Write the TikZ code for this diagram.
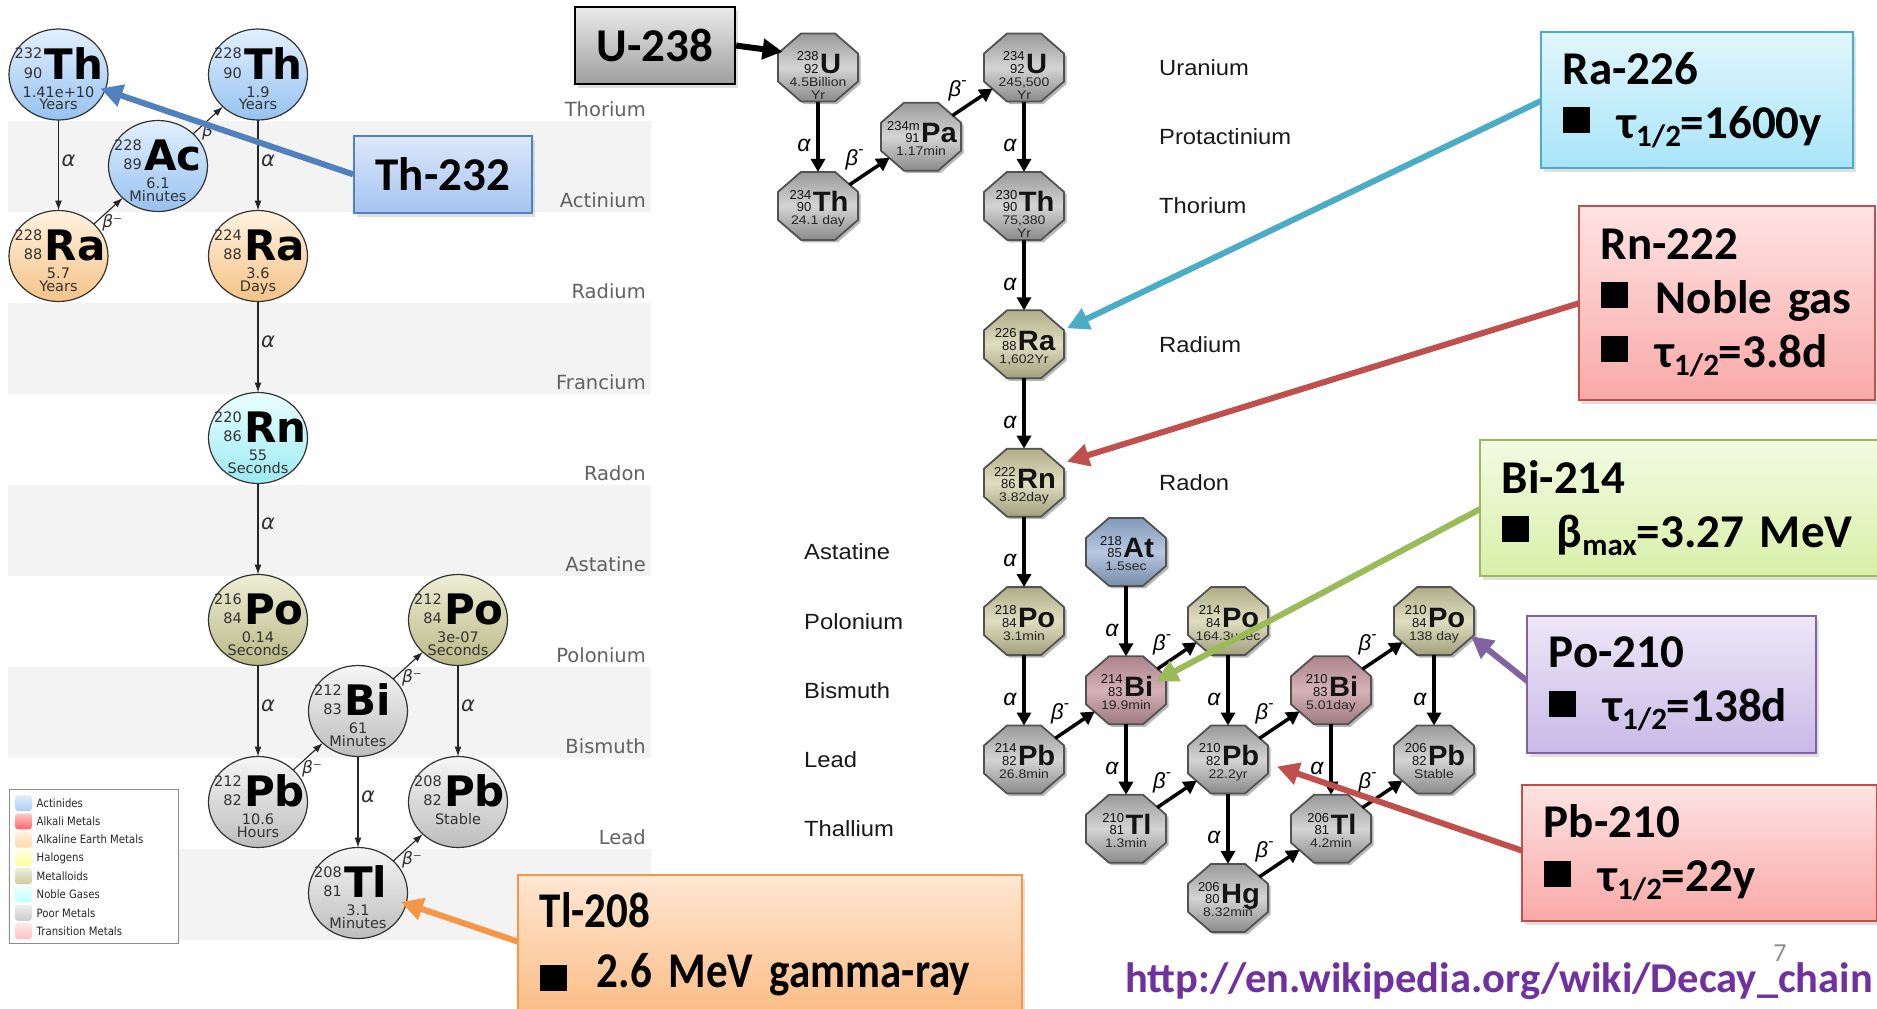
\documentclass[tikz,border=0pt]{standalone}
\usepackage{fontspec}
\setmainfont{Liberation Sans}
\newfontfamily\dejavu{DejaVu Sans}
\newfontfamily\dejavunarrow[FakeStretch=0.88]{DejaVu Sans}
\newfontfamily\arialwide[FakeStretch=1.08]{Liberation Sans}
\newfontfamily\octsymfont[FakeStretch=1.04]{Liberation Sans}
\newfontfamily\octnumfont{Liberation Sans}
\newfontfamily\octtimefont[FakeStretch=1.12]{Liberation Sans}
\newfontfamily\calibri{Carlito}
\newfontfamily\calibrinarrow[FakeStretch=0.86]{Carlito}
\usetikzlibrary{arrows.meta,shapes.geometric,calc,shadows}

\newcommand\fsz[2]{\fontsize{#1}{#2}\selectfont}
\newcommand\sqb{\raisebox{5pt}{\rule{27pt}{26pt}}\hspace{28pt}}
\newcommand\sbs[1]{\raisebox{-8pt}{\fsz{31}{31}#1}}
\newcommand\rbm{β\raisebox{0.5em}{\fsz{16}{16}-}}

% palette
\definecolor{bandgray}{HTML}{F3F3F3}
\definecolor{ringBlueT}{HTML}{E2F0FF}\definecolor{ringBlueB}{HTML}{96C2F0}
\definecolor{ringPeachT}{HTML}{FFF2E0}\definecolor{ringPeachB}{HTML}{F5C387}
\definecolor{ringCyanT}{HTML}{EAFFFF}\definecolor{ringCyanB}{HTML}{9BEAF2}
\definecolor{ringOliveT}{HTML}{EEEED4}\definecolor{ringOliveB}{HTML}{B9B886}
\definecolor{ringGrayT}{HTML}{F6F6F6}\definecolor{ringGrayB}{HTML}{BDBDBD}
\definecolor{octGrayE}{HTML}{9A9A9A}\definecolor{octGrayM}{HTML}{D4D4D4}
\definecolor{octOliveE}{HTML}{B0AE86}\definecolor{octOliveM}{HTML}{DEDDC0}
\definecolor{octMauveE}{HTML}{AD838B}\definecolor{octMauveM}{HTML}{D4B2B7}
\definecolor{octBlueE}{HTML}{8299B8}\definecolor{octBlueM}{HTML}{B7C8DF}
\definecolor{legAct}{HTML}{A9D0F5}\definecolor{legAlk}{HTML}{FF6666}
\definecolor{legAE}{HTML}{FFD9A8}\definecolor{legHal}{HTML}{FFFF99}
\definecolor{legMet}{HTML}{CCCC99}\definecolor{legNob}{HTML}{C0FFFF}
\definecolor{legPoor}{HTML}{CCCCCC}\definecolor{legTr}{HTML}{FFC0C0}
\definecolor{thLine}{HTML}{4F81BD}\definecolor{thTop}{HTML}{DDE8FB}\definecolor{thBot}{HTML}{A6C3F0}
\definecolor{raLine}{HTML}{4BACC6}\definecolor{raTop}{HTML}{E2F6FD}\definecolor{raBot}{HTML}{A8E5F8}
\definecolor{redLine}{HTML}{C0504D}\definecolor{redTop}{HTML}{FDE3E3}\definecolor{redBot}{HTML}{F9A9A7}
\definecolor{biLine}{HTML}{9BBB59}\definecolor{biTop}{HTML}{F3FAE2}\definecolor{biBot}{HTML}{D8F0A9}
\definecolor{poLine}{HTML}{8064A2}\definecolor{poTop}{HTML}{EDE8F7}\definecolor{poBot}{HTML}{C9B9E7}
\definecolor{tlLine}{HTML}{F79646}\definecolor{tlTop}{HTML}{FEE7D3}\definecolor{tlBot}{HTML}{FBBD86}
\definecolor{urlPurple}{HTML}{7030A0}

\tikzset{
  ring/.style={ellipse, draw=black!80, line width=1.2pt, minimum width=99pt,
    minimum height=91pt, inner sep=0pt, outer sep=0pt},
  ringblue/.style={top color=ringBlueT, bottom color=ringBlueB},
  ringpeach/.style={top color=ringPeachT, bottom color=ringPeachB},
  ringcyan/.style={top color=ringCyanT, bottom color=ringCyanB},
  ringolive/.style={top color=ringOliveT, bottom color=ringOliveB},
  ringgray/.style={top color=ringGrayT, bottom color=ringGrayB},
  ringnum/.style={font=\dejavu\fsz{14.5}{17}, text=black!80, inner sep=0pt},
  ringsym/.style={font=\dejavu\bfseries\fsz{42}{46}, inner sep=0pt},
  octbase/.style={ellipse, minimum width=80pt, minimum height=68pt, inner sep=0pt, outer sep=0pt},
  octline/.style={draw=black!68, line width=1.8pt, line join=round},
  octgray/.style={top color=octGrayE, bottom color=octGrayE!90!black, middle color=octGrayM},
  octolive/.style={top color=octOliveE, bottom color=octOliveE!92!black, middle color=octOliveM},
  octmauve/.style={top color=octMauveE, bottom color=octMauveE!92!black, middle color=octMauveM},
  octblue/.style={top color=octBlueE, bottom color=octBlueE!92!black, middle color=octBlueM},
  octgroup/.style={anchor=base, inner sep=0pt, text=black!92},
  octtime/.style={anchor=base, inner sep=0pt, font=\octtimefont\fsz{12.5}{14}, text=black!85},
  larrow/.style={line width=1.1pt, black!85, -{Latex[length=10pt,width=7pt]}},
  lalpha/.style={font=\dejavu\itshape\fsz{21}{22}, text=black!80, inner sep=0pt, xshift=10pt, yshift=5pt},
  lbeta/.style={font=\dejavu\itshape\fsz{17}{18}, text=black!80, inner sep=0pt, xshift=4pt, yshift=-12pt},
  llabel/.style={font=\dejavu\fsz{19.5}{22}, text=black!62, anchor=base east, inner sep=0pt},
  rlabel/.style={font=\arialwide\fsz{22}{24}, text=black!90, anchor=base west, inner sep=0pt},
  rarrow/.style={line width=3.5pt, black, -{Triangle[length=13pt,width=14pt]}},
  ralpha/.style={font=\itshape\fsz{23}{24}, inner sep=0pt, xshift=-14pt, yshift=-9pt},
  rbeta/.style={font=\itshape\fsz{22}{23}, inner sep=0pt, xshift=-15pt, yshift=11pt},
  legsw/.style={rounded corners=3pt, minimum width=17pt, minimum height=16pt, inner sep=0pt},
  legtext/.style={font=\dejavunarrow\fsz{11.5}{13}, text=black!85, anchor=west, inner sep=0pt},
  boxshadow/.style={drop shadow={shadow xshift=3pt, shadow yshift=-4pt, opacity=0.25}},
  tagbox/.style={draw, line width=1.6pt, inner sep=0pt, anchor=north west, boxshadow,
    font=\calibri\bfseries\fsz{47}{54}},
  callout/.style={draw, line width=1.5pt, inner xsep=22pt, inner ysep=0pt, align=left,
    anchor=north west, boxshadow, font=\calibri\bfseries\fsz{47}{54}},
  callarrow/.style={line width=6pt, -{Triangle[length=22pt,width=22pt]}},
}

% nuclide of the thorium series: name, position, palette, A, Z, symbol, time, unit
\newcommand\ringnuc[8]{%
  \node[ring,#3] (#1) at #2 {};
  \node[ringnum,anchor=base east] (#1-a) at ([shift={(-16,-16)}]#1.center) {#4};
  \node[ringnum,anchor=base east] (#1-z) at ([shift={(-16,3.5)}]#1.center) {#5};
  \node[ringsym,anchor=base west] (#1-s) at ([shift={(-14,4.5)}]#1.center) {#6};
  \node[ringnum,anchor=base] (#1-t) at ([shift={(0,22.5)}]#1.center) {#7};
  \node[ringnum,anchor=base] (#1-u) at ([shift={(0,35)}]#1.center) {#8};
}

% nuclide of the uranium series: name, position, palette, A, Z, symbol, time, second line
\newcommand\octnuc[8]{%
  \node[octbase] (#1) at #2 {};
  \fill[black, opacity=0.28, shift={($(#1.center)+(2.5,2.5)$)}]
    (-40,-14) -- (-17,-34) -- (17,-34) -- (40,-14) -- (40,14) -- (17,34) -- (-17,34) -- (-40,14) -- cycle;
  \shadedraw[octline, #3, shift={(#1.center)}]
    (-40,-14) -- (-17,-34) -- (17,-34) -- (40,-14) -- (40,14) -- (17,34) -- (-17,34) -- (-40,14) -- cycle;
  \node[octgroup] (#1-id) at ([shift={(1,6)}]#1.center)
    {{\octnumfont\fsz{13}{12}\begin{tabular}[b]{@{}r@{}}#4\\#5\end{tabular}}\hspace{1.5pt}{\octsymfont\bfseries\fsz{28}{30}#6}};
  \node[octtime] (#1-t) at ([shift={(0,19)}]#1.center) {#7};
  \node[octtime] (#1-u) at ([shift={(0,31.5)}]#1.center) {#8};
}

\begin{document}
\begin{tikzpicture}[x=1pt, y=-1pt]
\useasboundingbox (0,0) rectangle (1877,1009);
\fill[white] (0,0) rectangle (1877,1009);

% ---------- thorium series: element rows ----------
\foreach \k in {1,3,5,7,9}
  \fill[bandgray] (8.4,{29.5+91*\k}) rectangle (651,{120.5+91*\k});
\foreach \lab [count=\k from 0] in {Thorium,Actinium,Radium,Francium,Radon,Astatine,Polonium,Bismuth,Lead}
  \node[llabel] (row\k) at (646,{116+91*\k}) {\lab};

% ---------- thorium series: nuclides ----------
\ringnuc{Th232}{(58.5,74.5)}{ringblue}{232}{90}{Th}{1.41e+10}{Years}
\ringnuc{Th228}{(258,74.5)}{ringblue}{228}{90}{Th}{1.9}{Years}
\ringnuc{Ac228}{(158,166)}{ringblue}{228}{89}{Ac}{6.1}{Minutes}
\ringnuc{Ra228}{(58.5,256)}{ringpeach}{228}{88}{Ra}{5.7}{Years}
\ringnuc{Ra224}{(258,256)}{ringpeach}{224}{88}{Ra}{3.6}{Days}
\ringnuc{Rn220}{(258,438)}{ringcyan}{220}{86}{Rn}{55}{Seconds}
\ringnuc{Po216}{(258,620)}{ringolive}{216}{84}{Po}{0.14}{Seconds}
\ringnuc{Po212}{(458,620)}{ringolive}{212}{84}{Po}{3e-07}{Seconds}
\ringnuc{Bi212}{(358,711)}{ringgray}{212}{83}{Bi}{61}{Minutes}
\ringnuc{Pb212}{(258,802)}{ringgray}{212}{82}{Pb}{10.6}{Hours}
\ringnuc{Pb208}{(458,802)}{ringgray}{208}{82}{Pb}{Stable}{}
\ringnuc{Tl208}{(358,893)}{ringgray}{208}{81}{Tl}{3.1}{Minutes}

% ---------- thorium series: decays ----------
\draw[larrow] (Th232) -- node[lalpha] (la1) {α} (Ra228);
\draw[larrow] (Ra228) -- node[lbeta] (lb1) {β⁻} (Ac228);
\draw[larrow] (Ac228) -- node[lbeta] (lb2) {β⁻} (Th228);
\draw[larrow] (Th228) -- node[lalpha] (la2) {α} (Ra224);
\draw[larrow] (Ra224) -- node[lalpha] (la3) {α} (Rn220);
\draw[larrow] (Rn220) -- node[lalpha] (la4) {α} (Po216);
\draw[larrow] (Po216) -- node[lalpha] (la5) {α} (Pb212);
\draw[larrow] (Pb212) -- node[lbeta] (lb3) {β⁻} (Bi212);
\draw[larrow] (Bi212) -- node[lbeta] (lb4) {β⁻} (Po212);
\draw[larrow] (Po212) -- node[lalpha] (la6) {α} (Pb208);
\draw[larrow] (Bi212) -- node[lalpha] (la7) {α} (Tl208);
\draw[larrow] (Tl208) -- node[lbeta] (lb5) {β⁻} (Pb208);

% ---------- legend ----------
\node[draw=black!45, line width=0.8pt, fill=white, minimum width=169pt, minimum height=154pt,
  inner sep=0pt, anchor=north west] (legend) at (9,789) {};
\foreach \lab/\col [count=\i] in {Actinides/legAct, Alkali Metals/legAlk, Alkaline Earth Metals/legAE,
    Halogens/legHal, Metalloids/legMet, Noble Gases/legNob, Poor Metals/legPoor, Transition Metals/legTr} {
  \node[legsw, top color=\col!35, bottom color=\col] (sw\i) at (23.5,{784.7+18.3*\i}) {};
  \node[legtext] (lt\i) at (36.5,{784.7+18.3*\i}) {\lab};
}

% ---------- uranium series: element rows ----------
\node[rlabel] (uR0) at (1159,75.5) {Uranium};
\node[rlabel] (uR1) at (1159,144.7) {Protactinium};
\node[rlabel] (uR2) at (1159,213.9) {Thorium};
\node[rlabel] (uR4) at (1159,352.3) {Radium};
\node[rlabel] (uR6) at (1159,490.7) {Radon};
\node[rlabel] (uR7) at (804,559.9) {Astatine};
\node[rlabel] (uR8) at (804,629.1) {Polonium};
\node[rlabel] (uR9) at (804,698.3) {Bismuth};
\node[rlabel] (uR10) at (804,767.5) {Lead};
\node[rlabel] (uR11) at (804,836.7) {Thallium};

% ---------- uranium series: nuclides ----------
\octnuc{U238}{(818,67.5)}{octgray}{238}{92}{U}{4.5Billion}{Yr}
\octnuc{Th234}{(818,205.9)}{octgray}{234}{90}{Th}{24.1 day}{}
\octnuc{Pa234}{(921,136.7)}{octgray}{234m}{91}{Pa}{1.17min}{}
\octnuc{U234}{(1024,67.5)}{octgray}{234}{92}{U}{245,500}{Yr}
\octnuc{Th230}{(1024,205.9)}{octgray}{230}{90}{Th}{75,380}{Yr}
\octnuc{Ra226}{(1024,344.3)}{octolive}{226}{88}{Ra}{1,602Yr}{}
\octnuc{Rn222}{(1024,482.7)}{octolive}{222}{86}{Rn}{3.82day}{}
\octnuc{At218}{(1126,551.9)}{octblue}{218}{85}{At}{1.5sec}{}
\octnuc{Po218}{(1024,621.1)}{octolive}{218}{84}{Po}{3.1min}{}
\octnuc{Po214}{(1228,621.1)}{octolive}{214}{84}{Po}{164.3µsec}{}
\octnuc{Po210}{(1434,621.1)}{octolive}{210}{84}{Po}{138 day}{}
\octnuc{Bi214}{(1126,690.3)}{octmauve}{214}{83}{Bi}{19.9min}{}
\octnuc{Bi210}{(1331,690.3)}{octmauve}{210}{83}{Bi}{5.01day}{}
\octnuc{Pb214}{(1024,759.5)}{octgray}{214}{82}{Pb}{26.8min}{}
\octnuc{Pb210}{(1228,759.5)}{octgray}{210}{82}{Pb}{22.2yr}{}
\octnuc{Pb206}{(1434,759.5)}{octgray}{206}{82}{Pb}{Stable}{}
\octnuc{Tl210}{(1126,828.7)}{octgray}{210}{81}{Tl}{1.3min}{}
\octnuc{Tl206}{(1331,828.7)}{octgray}{206}{81}{Tl}{4.2min}{}
\octnuc{Hg206}{(1228,897.9)}{octgray}{206}{80}{Hg}{8.32min}{}

% ---------- uranium series: decays ----------
\draw[rarrow] (U238) -- node[ralpha] (ra1) {α} (Th234);
\draw[rarrow] (Th234) -- node[rbeta] (rb1) {\rbm} (Pa234);
\draw[rarrow] (Pa234) -- node[rbeta] (rb2) {\rbm} (U234);
\draw[rarrow] (U234) -- node[ralpha] (ra2) {α} (Th230);
\draw[rarrow] (Th230) -- node[ralpha] (ra3) {α} (Ra226);
\draw[rarrow] (Ra226) -- node[ralpha] (ra4) {α} (Rn222);
\draw[rarrow] (Rn222) -- node[ralpha] (ra5) {α} (Po218);
\draw[rarrow] (At218) -- node[ralpha] (ra6) {α} (Bi214);
\draw[rarrow] (Po218) -- node[ralpha] (ra7) {α} (Pb214);
\draw[rarrow] (Pb214) -- node[rbeta] (rb3) {\rbm} (Bi214);
\draw[rarrow] (Bi214) -- node[rbeta] (rb4) {\rbm} (Po214);
\draw[rarrow] (Bi214) -- node[ralpha] (ra8) {α} (Tl210);
\draw[rarrow] (Po214) -- node[ralpha] (ra9) {α} (Pb210);
\draw[rarrow] (Tl210) -- node[rbeta] (rb5) {\rbm} (Pb210);
\draw[rarrow] (Pb210) -- node[rbeta] (rb6) {\rbm} (Bi210);
\draw[rarrow] (Pb210) -- node[ralpha] (ra10) {α} (Hg206);
\draw[rarrow] (Hg206) -- node[rbeta] (rb7) {\rbm} (Tl206);
\draw[rarrow] (Bi210) -- node[rbeta] (rb8) {\rbm} (Po210);
\draw[rarrow] (Bi210) -- node[ralpha] (ra11) {α} (Tl206);
\draw[rarrow] (Po210) -- node[ralpha] (ra12) {α} (Pb206);
\draw[rarrow] (Tl206) -- node[rbeta] (rb9) {\rbm} (Pb206);

% ---------- callouts ----------
\coordinate (thTip) at ($(Th232)+(42,14)$);
\coordinate (raTip) at ($(Ra226)+(43,-16)$);
\coordinate (rnTip) at ($(Rn222)+(43,-21)$);
\coordinate (biTip) at ($(Bi214)+(30,-9)$);
\coordinate (poTip) at ($(Po210)+(37,15)$);
\coordinate (pbTip) at ($(Pb210)+(49,7)$);
\coordinate (tlTip) at ($(Tl208)+(43,9)$);

\node[tagbox, draw=black, line width=2.2pt, top color=black!8, bottom color=black!38,
  minimum width=160pt, minimum height=77pt] (U238box) at (574,6) {U-238};
\node[tagbox, draw=thLine, top color=thTop, bottom color=thBot,
  minimum width=178pt, minimum height=77pt] (Th232box) at (353,135) {Th-232};

\draw[line width=6pt, -{Triangle[length=20pt,width=20pt]}] (U238box.east) -- (U238.156);
\draw[callarrow, thLine] (Th232box.west) -- (thTip);
\draw[callarrow, raLine] (1545,99) -- (raTip);
\draw[callarrow, redLine] (1583,302) -- (rnTip);
\draw[callarrow, biLine] (1484,507) -- (biTip);
\draw[callarrow, poLine] (1531,684) -- (poTip);
\draw[callarrow, redLine] (1526,852) -- (pbTip);
\draw[callarrow, tlLine] (522,943) -- (tlTip);

\node[callout, draw=raLine, top color=raTop, bottom color=raBot, text width=268pt,
  minimum height=136pt] (Ra226box) at (1540,31) {Ra-226\\\sqb τ\sbs{1/2}=1600y};
\node[callout, draw=redLine, top color=redTop, bottom color=redBot, text width=252pt,
  minimum height=194pt] (Rn222box) at (1578,205) {Rn-222\\\sqb Noble gas\\\sqb τ\sbs{1/2}=3.8d};
\node[callout, draw=biLine, top color=biTop, bottom color=biBot, text width=360pt,
  minimum height=136pt] (Bi214box) at (1479,439) {Bi-214\\\sqb β\sbs{max}=3.27 MeV};
\node[callout, draw=poLine, top color=poTop, bottom color=poBot, text width=245pt,
  minimum height=137pt] (Po210box) at (1526,615) {Po-210\\\sqb τ\sbs{1/2}=138d};
\node[callout, draw=redLine, top color=redTop, bottom color=redBot, text width=311pt,
  minimum height=136pt] (Pb210box) at (1521,784) {Pb-210\\\sqb τ\sbs{1/2}=22y};
\node[callout, draw=tlLine, top color=tlTop, bottom color=tlBot, text width=460pt,
  minimum height=138pt, font=\calibrinarrow\bfseries\fsz{50}{60}] (Tl208box) at (517,874)
  {Tl-208\\\raisebox{-4pt}{\rule{27pt}{26pt}}\hspace{30pt}2.6 MeV gamma-ray};

% ---------- footer ----------
\node[font=\calibri\fsz{26}{28}, text=black!45, inner sep=0pt] (pageno) at (1780,953) {7};
\node[anchor=base west, font=\calibri\bfseries\fsz{42.5}{44}, text=urlPurple, inner sep=0pt]
  (url) at (1125,992) {http://en.wikipedia.org/wiki/Decay\_chain};
\end{tikzpicture}
\end{document}
